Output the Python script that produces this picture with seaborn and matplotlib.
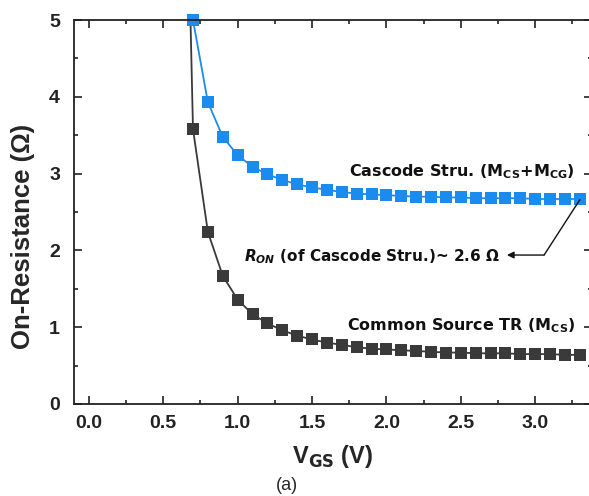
import numpy as np
import pandas as pd
import matplotlib
matplotlib.use("Agg")
import matplotlib.pyplot as plt
from matplotlib.ticker import MultipleLocator
import seaborn as sns

# V_GS sweep (V)
vgs = [0.6, 0.7, 0.8, 0.9, 1.0, 1.1, 1.2, 1.3, 1.4, 1.5, 1.6, 1.7, 1.8, 1.9, 2.0,
       2.1, 2.2, 2.3, 2.4, 2.5, 2.6, 2.7, 2.8, 2.9, 3.0, 3.1, 3.2, 3.3]
# on-resistance (ohm)
r_cs = [12.0, 3.58, 2.24, 1.67, 1.36, 1.17, 1.05, 0.96, 0.89, 0.84, 0.80, 0.77, 0.74, 0.72, 0.71,
        0.70, 0.69, 0.68, 0.67, 0.67, 0.66, 0.66, 0.66, 0.65, 0.65, 0.65, 0.64, 0.64]
r_cascode = [None, 5.0, 3.93, 3.48, 3.24, 3.09, 2.99, 2.92, 2.86, 2.82, 2.79, 2.76, 2.74, 2.73, 2.72,
             2.71, 2.70, 2.70, 2.69, 2.69, 2.68, 2.68, 2.68, 2.68, 2.67, 2.67, 2.67, 2.67]

df = pd.DataFrame({"VGS": vgs, "CS": r_cs, "Cascode": r_cascode})

sns.set_style("ticks")
plt.rcParams["font.family"] = ["Liberation Sans", "DejaVu Sans"]

fig = plt.figure(figsize=(5.89, 4.96), dpi=100)
ax = fig.add_axes([0.1256, 0.1855, 0.879, 0.774])

sns.lineplot(data=df, x="VGS", y="CS", ax=ax, color="#3a3a3a", marker="s",
             markersize=8.5, markeredgewidth=0, linewidth=1.3, clip_on=True)
sns.lineplot(data=df.dropna(), x="VGS", y="Cascode", ax=ax, color="#1a8cf0", marker="s",
             markersize=8, markeredgewidth=0, linewidth=1.3, clip_on=False)

ax.set_xlim(-0.1, 3.38)
ax.set_ylim(0, 5)
ax.xaxis.set_minor_locator(MultipleLocator(0.25))
ax.yaxis.set_major_locator(MultipleLocator(1))
ax.yaxis.set_minor_locator(MultipleLocator(0.5))
ax.set_xticks([0.0, 0.5, 1.0, 1.5, 2.0, 2.5, 3.0])
ax.set_xticklabels(["0.0", "0.5", "1.0", "1.5", "2.0", "2.5", "3.0"])
ax.tick_params(which="both", direction="in", top=True, right=True, width=1.2, colors="#222222")
ax.tick_params(which="major", length=6, labelsize=14)
ax.tick_params(axis="x", which="major", pad=8)
ax.tick_params(axis="y", which="major", pad=10)
ax.tick_params(which="minor", length=3)
for lbl in ax.get_xticklabels() + ax.get_yticklabels():
    lbl.set_fontweight("bold")
for s in ax.spines.values():
    s.set_linewidth(1.3)
    s.set_color("#222222")

ax.set_xlabel("V$_{\\mathbf{GS}}$ (V)", fontsize=17, fontweight="bold", labelpad=8)
ax.set_ylabel("On-Resistance (\u03a9)", fontsize=18.5, fontweight="bold")
ax.yaxis.set_label_coords(-0.075, 0.4375)

tfont = dict(family=["DejaVu Sans"], fontweight="bold", color="#111111")
ax.text(3.27, 3.02, "Cascode Stru. (M$_{\\mathbf{CS}}$+M$_{\\mathbf{CG}}$)", ha="right", va="center",
        fontsize=11.5, **tfont)
ax.text(3.27, 1.02, "Common Source TR (M$_{\\mathbf{CS}}$)", ha="right", va="center",
        fontsize=11.5, **tfont)
ax.text(1.04, 1.92, "$\\mathbfit{R}_{\\mathbfit{ON}}$ (of Cascode Stru.)~ 2.6 \u03a9", ha="left", va="center",
        fontsize=11, **tfont)
ax.annotate("", xy=(2.81, 1.94), xytext=(3.06, 1.94),
            arrowprops=dict(arrowstyle="-|>", color="#111111", lw=1.0, mutation_scale=10,
                            shrinkA=0, shrinkB=0))
ax.plot([3.06, 3.3], [1.94, 2.66], color="#111111", lw=1.0)

fig.text(0.487, 0.022, "(a)", ha="center", va="center", fontsize=13)

fig.savefig("out.png", dpi=100)
